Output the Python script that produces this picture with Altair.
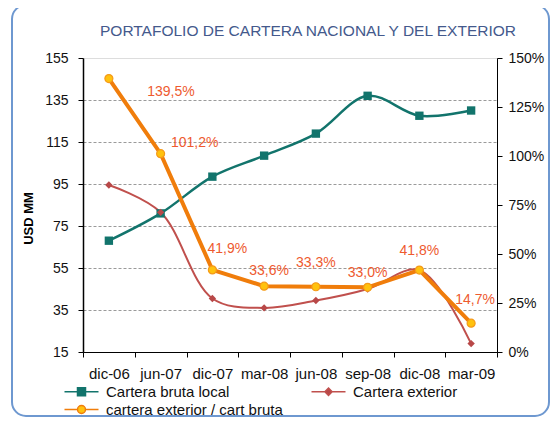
import altair as alt
import pandas as pd

# ---- data ----
categories = ["dic-06", "jun-07", "dic-07", "mar-08", "jun-08", "sep-08", "dic-08", "mar-09"]
cartera_local = [68.0, 81.0, 98.5, 108.5, 119.0, 137.0, 127.5, 130.0]
cartera_exterior = [94.5, 81.5, 40.5, 36.0, 39.5, 45.0, 54.0, 19.0]
ratio_pct = [139.5, 101.2, 41.9, 33.6, 33.3, 33.0, 41.8, 14.7]
series_names = ["Cartera bruta local", "Cartera exterior", "cartera exterior / cart bruta"]
left_ticks = [15, 35, 55, 75, 95, 115, 135, 155]
right_ticks = [0, 25, 50, 75, 100, 125, 150]

df = pd.DataFrame({"cat": categories, "local": cartera_local,
                   "exterior": cartera_exterior, "ratio": ratio_pct})
legend_df = pd.DataFrame({"series": series_names})

# ---- styles ----
F = "Liberation Sans"
TEAL = "#12746C"
RED = "#C0504D"
ORANGE = "#F07D0B"
YELLOW = "#FFC20E"
LABEL_RED = "#EE5A2F"

label_offsets = {"dic-06": (62, 13), "jun-07": (34, -11), "dic-07": (15, -21),
                 "mar-08": (5, -15), "jun-08": (0, -24), "sep-08": (0, -14),
                 "dic-08": (0, -19), "mar-09": (4, -23)}

x_enc = alt.X("cat:N", sort=categories,
              scale=alt.Scale(type="band", domain=categories, paddingInner=0, paddingOuter=0),
              axis=alt.Axis(title=None, tickBand="extent", labelAngle=0, labelFontSize=15,
                            labelFont=F, labelColor="#111111", labelPadding=9, tickSize=5,
                            tickColor="black", domainColor="black", grid=False))

left_scale = alt.Scale(domain=[15, 155], nice=False, zero=False)
left_axis = alt.Axis(title="USD MM", values=left_ticks, orient="left", grid=True,
                     gridDash=[3, 2], gridColor="#9A9A9A",
                     gridOpacity={"condition": {"test": "datum.value === 15 || datum.value === 155",
                                                "value": 0}, "value": 1},
                     tickSize=5, tickColor="black", domainColor="black", domainWidth=1.5,
                     labelFontSize=14, labelFont=F, labelColor="#111111", labelPadding=10,
                     titleFontSize=13, titleFont=F, titleFontWeight="bold", titleColor="black",
                     titleX=-55, titleY=160, titleAngle=270, titleAlign="center",
                     titleBaseline="middle")

right_scale = alt.Scale(domain=[0, 150], nice=False, zero=True)
right_axis = alt.Axis(title=None, orient="right", values=right_ticks,
                      labelExpr="datum.value + '%'", grid=False, tickSize=5,
                      tickColor="black", domainColor="black", labelPadding=6,
                      labelFontSize=14, labelFont=F, labelColor="#111111")

y_local = alt.Y("local:Q", scale=left_scale, axis=left_axis)
y_ext = alt.Y("exterior:Q", scale=left_scale, axis=left_axis)
y_ratio = alt.Y("ratio:Q", scale=right_scale, axis=right_axis)

base = alt.Chart(df)

frame = base.transform_filter(alt.datum.cat == categories[0]).mark_rect(
    fillOpacity=0, stroke="#6E98D0", strokeWidth=2, cornerRadius=14
).encode(x=alt.value(-71), x2=alt.value(466), y=alt.value(-53), y2=alt.value(358))

local_line = base.mark_line(color=TEAL, strokeWidth=2.5, interpolate="catmull-rom").encode(x=x_enc, y=y_local)
local_pts = base.mark_point(shape="square", filled=True, color=TEAL, size=70, opacity=1).encode(x=x_enc, y=y_local)
ext_line = base.mark_line(color=RED, strokeWidth=2, interpolate="catmull-rom").encode(x=x_enc, y=y_ext)
ext_pts = base.mark_point(shape="diamond", filled=True, color="#B84848", size=55, opacity=1).encode(x=x_enc, y=y_ext)

# legend (symbols: line + marker)
sym_sq = "M-4.25,0H-1M1,0H4.25M-1,-1H1V1H-1Z"
sym_dm = "M-4.25,0H-0.9M0.9,0H4.25M0,-0.9L0.9,0L0,0.9L-0.9,0Z"
sym_ci = "M-4.25,0H-1M1,0H4.25M-1,0A1,1,0,1,0,1,0A1,1,0,1,0,-1,0Z"
leg = alt.Legend(title=None, orient="none", legendX=-9, legendY=326, columns=2,
                 direction="horizontal",
                 columnPadding=25, rowPadding=2, labelFontSize=15, labelFont=F,
                 labelColor="#111111", symbolSize=64, symbolStrokeWidth=1.5,
                 labelOffset=17, padding=0, labelLimit=400)
legend_layer = alt.Chart(legend_df).transform_filter("false").mark_point(filled=True, opacity=1).encode(
    shape=alt.Shape("series:N", scale=alt.Scale(domain=series_names, range=[sym_sq, sym_dm, sym_ci]), legend=leg),
    fill=alt.Fill("series:N", scale=alt.Scale(domain=series_names, range=[TEAL, "#B84848", YELLOW]), legend=leg),
    stroke=alt.Stroke("series:N", scale=alt.Scale(domain=series_names, range=[TEAL, RED, ORANGE]), legend=leg),
)

left = alt.layer(frame, local_line, ext_line, local_pts, ext_pts, legend_layer)

ratio_line = base.mark_line(color=ORANGE, strokeWidth=4).encode(x=x_enc, y=y_ratio)
ratio_pts = base.mark_point(shape="circle", filled=True, fill=YELLOW, stroke="#F59A1A",
                            strokeWidth=1.2, size=64, opacity=1).encode(x=x_enc, y=y_ratio)
labels = []
for cat, (ddx, ddy) in label_offsets.items():
    labels.append(
        base.transform_filter(alt.datum.cat == cat)
        .transform_calculate(lbl="replace(format(datum.ratio, '.1f'), '.', ',') + '%'")
        .mark_text(dx=ddx, dy=ddy, fontSize=14, font=F, color=LABEL_RED, align="center", baseline="middle")
        .encode(x=x_enc, y=y_ratio, text="lbl:N")
    )
right = alt.layer(ratio_line, ratio_pts, *labels)

chart = alt.layer(left, right).resolve_scale(y="independent").properties(
    width=414, height=294,
    padding={"left": 75, "top": 50, "right": 53, "bottom": 65},
    autosize=alt.AutoSizeParams(type="none"),
    title=alt.Title("PORTAFOLIO DE CARTERA NACIONAL Y DEL EXTERIOR", fontSize=15.5, font=F,
                    fontWeight="normal", color="#44598C", anchor="middle", dx=18, offset=0,
                    dy=35, frame="group"),
).configure_view(stroke="black", strokeWidth=1).configure(background="white")

chart.save("out.html", embed_options={"renderer": "svg", "actions": False})
